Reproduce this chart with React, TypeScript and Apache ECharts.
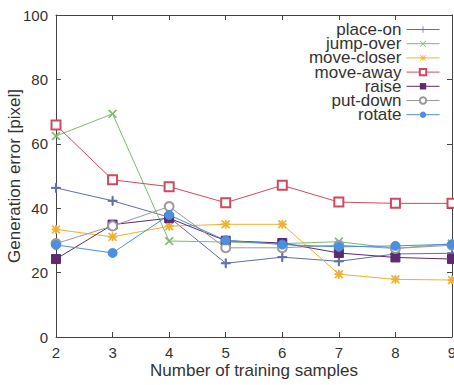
import React, { useEffect, useRef } from "react";
import * as echarts from "echarts";

const xValues = [2, 3, 4, 5, 6, 7, 8, 9];
const seriesNames = ["place-on", "jump-over", "move-closer", "move-away", "raise", "put-down", "rotate"];
const placeOn = [46.3, 42.3, 37.2, 22.9, 24.8, 23.5, 25.8, 26.0];
const jumpOver = [62.4, 69.3, 29.8, 29.5, 29.0, 29.6, 27.5, 29.0];
const moveCloser = [33.4, 31.1, 34.4, 35.0, 35.0, 19.5, 17.9, 17.7];
const moveAway = [65.8, 48.8, 46.7, 41.7, 47.1, 41.9, 41.5, 41.5];
const raise = [24.2, 34.9, 36.9, 29.9, 29.2, 26.1, 24.7, 24.2];
const putDown = [29.0, 34.5, 40.5, 27.7, 27.7, 28.5, 27.5, 28.5];
const rotate = [28.6, 26.1, 37.9, 30.0, 28.7, 28.0, 28.3, 28.8];

const FONT = "Liberation Sans, Arial, sans-serif";
const AXIS = "#444";

const PLUS = "M4.4,0H5.6V4.4H10V5.6H5.6V10H4.4V5.6H0V4.4H4.4Z";
const CROSS = "M0.8,0L5,4.2L9.2,0L10,0.8L5.8,5L10,9.2L9.2,10L5,5.8L0.8,10L0,9.2L4.2,5L0,0.8Z";

const styles = [
  { color: "#5f6fa6", symbol: "path://" + PLUS, size: 9 },
  { color: "#7cbc6c", symbol: "path://" + CROSS, size: 8 },
  { color: "#f0b030", symbol: "path://" + PLUS + CROSS, size: 8 },
  { color: "#cf4a5e", symbol: "emptyRect", size: 9 },
  { color: "#5e2a6e", symbol: "rect", size: 9 },
  { color: "#9a9a9a", symbol: "emptyCircle", size: 9 },
  { color: "#4a8fe0", symbol: "circle", size: 9 },
];

const allData = [placeOn, jumpOver, moveCloser, moveAway, raise, putDown, rotate];

export default function App() {
  const ref = useRef<HTMLDivElement>(null);
  useEffect(() => {
    if (!ref.current) return;
    const chart = echarts.init(ref.current, undefined, { renderer: "svg" });
    const axisCommon = {
      type: "value" as const,
      axisLine: { show: true, onZero: false, lineStyle: { color: AXIS, width: 1 } },
      axisTick: { show: true, inside: true, length: 5, lineStyle: { color: AXIS } },
      splitLine: { show: false },
    };
    chart.setOption({
      animation: false,
      backgroundColor: "#fff",
      grid: { left: 56, right: 2, top: 15, bottom: 48, outerBoundsMode: "none", containLabel: false },
      xAxis: [
        {
          ...axisCommon,
          position: "bottom",
          min: 2,
          max: 9,
          interval: 1,
          name: "Number of training samples",
          nameLocation: "middle",
          nameGap: 25,
          nameMoveOverlap: false,
          nameTextStyle: { fontSize: 17, color: "#333", fontFamily: FONT },
          axisLabel: { fontSize: 15, color: "#333", fontFamily: FONT, margin: 8 },
        },
        {
          ...axisCommon,
          position: "top",
          min: 2,
          max: 9,
          interval: 1,
          axisLabel: { show: false },
        },
      ],
      yAxis: [
        {
          ...axisCommon,
          position: "left",
          min: 0,
          max: 100,
          interval: 20,
          name: "Generation error [pixel]",
          nameLocation: "middle",
          nameGap: 33,
          nameMoveOverlap: false,
          nameRotate: 90,
          nameTextStyle: { fontSize: 17, color: "#333", fontFamily: FONT },
          axisLabel: { fontSize: 15, color: "#333", fontFamily: FONT, margin: 8 },
        },
        {
          ...axisCommon,
          position: "right",
          min: 0,
          max: 100,
          interval: 20,
          axisLabel: { show: false },
        },
      ],
      legend: seriesNames.map((n, i) => ({
        data: [n],
        right: 14,
        top: 21 + i * 14.2,
        orient: "vertical",
        align: "right",
        itemWidth: 33,
        itemHeight: 8,
        padding: 0,
        itemGap: 0,
        lineStyle: { width: 1 },
        textStyle: { fontSize: 17, lineHeight: 14, color: "#333", fontFamily: FONT },
      })),
      series: seriesNames.map((n, i) => ({
        name: n,
        type: "line",
        xAxisIndex: 0,
        yAxisIndex: 0,
        data: xValues.map((x, j) => [x, allData[i][j]]),
        symbol: styles[i].symbol,
        symbolSize: styles[i].size,
        showAllSymbol: true,
        lineStyle: { color: styles[i].color, width: 1 },
        itemStyle: { color: styles[i].color, borderColor: styles[i].color },
      })),
    });
    return () => chart.dispose();
  }, []);
  return (
    <div
      ref={ref}
      style={{ position: "fixed", left: 0, top: 0, width: 454, height: 385 }}
    />
  );
}
